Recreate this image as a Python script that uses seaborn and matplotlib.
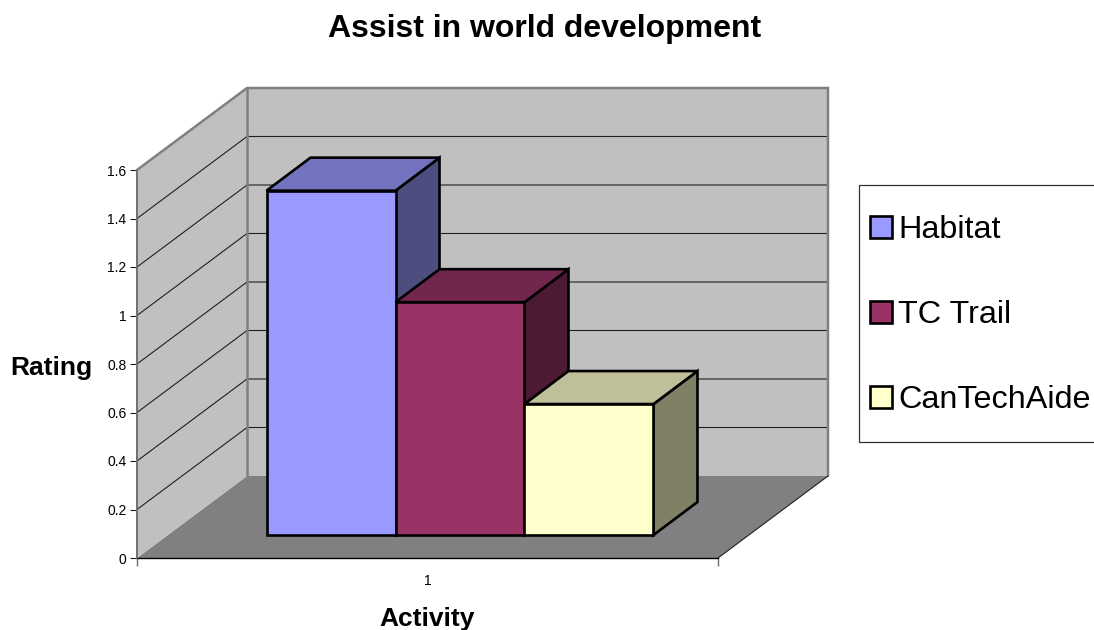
import matplotlib
matplotlib.use("Agg")
import matplotlib.pyplot as plt
import numpy as np
import pandas as pd
import seaborn as sns
from matplotlib.patches import Polygon, Rectangle
from matplotlib.transforms import IdentityTransform

# %% Data
SERIES = ["Habitat", "TC Trail", "CanTechAide"]
RATINGS = [1.42, 0.96, 0.54]
ACTIVITY = ["1"]
Y_TICKS = [0, 0.2, 0.4, 0.6, 0.8, 1, 1.2, 1.4, 1.6]
Y_TICK_LABELS = ["0", "0.2", "0.4", "0.6", "0.8", "1", "1.2", "1.4", "1.6"]
COLORS = ["#9999FF", "#993366", "#FFFFCC"]

# %% Layout in pixels of the 1094x630 picture
W, H = 1094, 630
DPI = 100
WALL_DX, WALL_DY = 110, 82
BAR_DX, BAR_DY = 44, 33
SHIFT_X, SHIFT_Y = 32.5, 23
FRONT_LEFT, FRONT_RIGHT, FRONT_TOP, FRONT_BOTTOM = 137, 718, 170, 558

sns.set_theme(style="white")
plt.rcParams["font.family"] = ["Liberation Sans", "DejaVu Sans"]
plt.rcParams["text.color"] = "black"

fig = plt.figure(figsize=(W / DPI, H / DPI), dpi=DPI, facecolor="white")


def axes_rect(left, right, top, bottom):
    return [left / W, 1 - bottom / H, (right - left) / W, (bottom - top) / H]


# %% Walls, floor and axis
ax = fig.add_axes(axes_rect(FRONT_LEFT, FRONT_RIGHT, FRONT_TOP, FRONT_BOTTOM), zorder=1)
ax.set_xlim(0, 1)
ax.set_ylim(0, 1.6)
ax.patch.set_alpha(0)


def proj(x, v, depth=0.0):
    px = ax.transData.transform((x, v))
    return (px[0] + depth * WALL_DX, px[1] + depth * WALL_DY)


def add_poly(points, **kwargs):
    ax.add_patch(Polygon(points, closed=True, transform=IdentityTransform(), clip_on=False, **kwargs))


def add_line(points, **kwargs):
    xs, ys = zip(*points)
    ax.plot(xs, ys, transform=IdentityTransform(), clip_on=False, **kwargs)


add_poly([proj(0, 0), proj(1, 0), proj(1, 0, 1), proj(0, 0, 1)], facecolor="#808080", edgecolor="none", zorder=1)
add_poly([proj(0, 0), proj(0, 0, 1), proj(0, 1.6, 1), proj(0, 1.6)], facecolor="#C0C0C0", edgecolor="none", zorder=1)
add_poly([proj(0, 0, 1), proj(1, 0, 1), proj(1, 1.6, 1), proj(0, 1.6, 1)], facecolor="#C0C0C0", edgecolor="none", zorder=1)

for v in Y_TICKS[1:-1]:
    add_line([proj(0, v), proj(0, v, 1), proj(1, v, 1)], color="#202020", lw=0.8, zorder=2)

add_line([proj(0, 1.6), proj(0, 1.6, 1), proj(1, 1.6, 1), proj(1, 0, 1)], color="#808080", lw=1.8, zorder=3,
         solid_joinstyle="miter")
add_line([proj(0, 0, 1), proj(0, 1.6, 1)], color="#808080", lw=1.8, zorder=3)
add_line([proj(0, 0), proj(0, 1.6)], color="#707070", lw=1.4, zorder=3)
add_line([proj(1, 0), proj(1, 0, 1)], color="#202020", lw=0.8, zorder=3)

ax.set_yticks(Y_TICKS)
ax.set_yticklabels(Y_TICK_LABELS, fontsize=10, color="black")
ax.set_xticks([0, 0.5, 1])
ax.set_xticklabels(["", ACTIVITY[0], ""], fontsize=10, color="black")
ax.tick_params(axis="y", length=5, width=0.8, color="#202020", left=True, pad=2.5)
ax.tick_params(axis="x", length=5.5, width=1, color="#707070", bottom=True, pad=6)
ax.xaxis.get_major_ticks()[1].tick1line.set_visible(False)
for name in ["top", "right", "left"]:
    ax.spines[name].set_visible(False)
ax.spines["bottom"].set_color("black")
ax.spines["bottom"].set_linewidth(1.0)

fig.text(427 / W, 1 - 619 / H, "Activity", fontsize=19, fontweight="bold", ha="center", va="center")
fig.text(51 / W, 1 - 368 / H, "Rating", fontsize=19, fontweight="bold", ha="center", va="center")
fig.text(544.5 / W, 1 - 29 / H, "Assist in world development", fontsize=23, fontweight="bold",
         ha="center", va="center")

# %% Bars: the front faces come from seaborn, the depth is built on top of them
bar_ax = fig.add_axes(
    axes_rect(FRONT_LEFT + SHIFT_X, FRONT_RIGHT + SHIFT_X, FRONT_TOP - SHIFT_Y, FRONT_BOTTOM - SHIFT_Y),
    zorder=2,
)
df = pd.DataFrame({"Activity": ACTIVITY * len(SERIES), "Series": SERIES, "Rating": RATINGS})
sns.barplot(
    data=df,
    x="Activity",
    y="Rating",
    hue="Series",
    palette=COLORS,
    saturation=1,
    width=0.666,
    gap=0,
    edgecolor="black",
    linewidth=1.9,
    ax=bar_ax,
)
bar_ax.set_ylim(0, 1.6)
bar_ax.set_axis_off()

bars = [p for p in bar_ax.patches if p.get_height() > 0]
for i, bar in enumerate(bars):
    x0, x1 = bar.get_x(), bar.get_x() + bar.get_width()
    h = bar.get_height()
    bl, br = bar_ax.transData.transform([(x0, 0), (x1, 0)])
    tl, tr = bar_ax.transData.transform([(x0, h), (x1, h)])
    d = np.array([BAR_DX, BAR_DY])
    rgb = np.array(matplotlib.colors.to_rgb(COLORS[i]))
    style = dict(transform=IdentityTransform(), clip_on=False, edgecolor="black", linewidth=1.9,
                 joinstyle="miter", zorder=10 + 2 * i)
    bar_ax.add_patch(Polygon([br, br + d, tr + d, tr], closed=True, facecolor=rgb * 0.5, **style))
    bar_ax.add_patch(Polygon([tl, tr, tr + d, tl + d], closed=True, facecolor=rgb * 0.75, **style))
    bar.set_zorder(11 + 2 * i)
    bar.set_clip_on(False)
    bar.set_joinstyle("miter")

# %% Legend frame runs off the right edge, as in the picture
fig.add_artist(Rectangle((859 / W, 1 - 442 / H), 300 / W, 257 / H, transform=fig.transFigure,
                         facecolor="white", edgecolor="#303030", linewidth=0.9, zorder=1.5))
sns.move_legend(
    bar_ax,
    loc="upper left",
    bbox_to_anchor=(859 / W, 1 - 204 / H),
    bbox_transform=fig.transFigure,
    title=None,
    frameon=False,
    fontsize=23.3,
    labelcolor="black",
    handlelength=0.66,
    handleheight=0.66,
    handletextpad=0.2,
    labelspacing=1.7,
    borderpad=0.35,
    borderaxespad=0,
)
bar_ax.get_legend().set_zorder(50)

fig.savefig("out.png", dpi=DPI)
